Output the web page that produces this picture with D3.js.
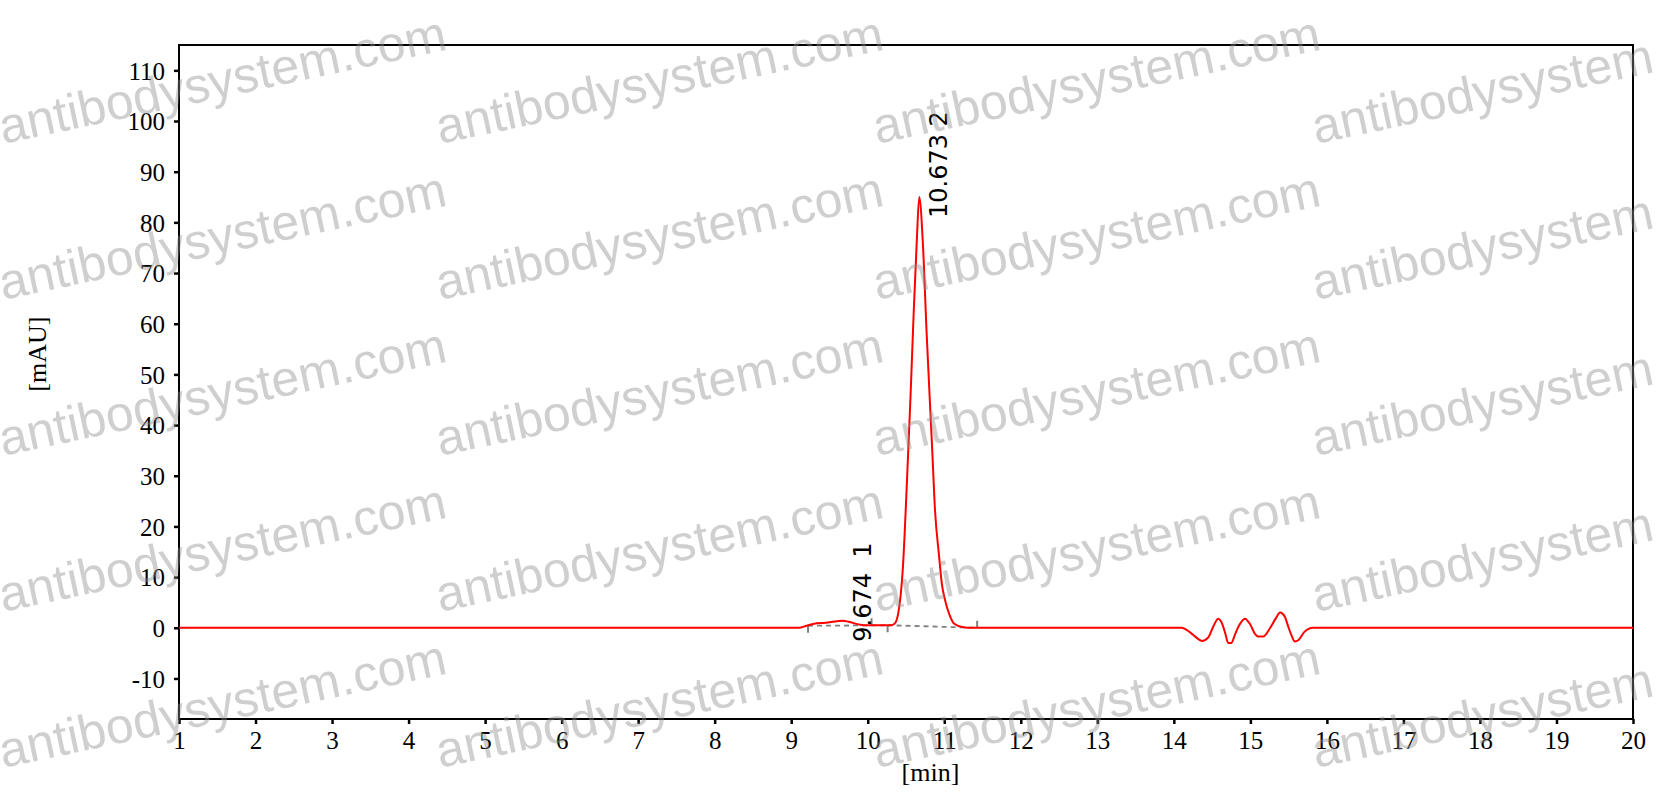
<!DOCTYPE html>
<html>
<head>
<meta charset="utf-8">
<script src="https://cdn.jsdelivr.net/npm/d3@7"></script>
<style>
  body { margin: 0; background: #fff; }
  svg { display: block; }
</style>
</head>
<body>
<svg id="chrom" width="1656" height="806"></svg>
<script>
// retention time (min) and signal (mAU)
var times = [1, 9.1, 9.2, 9.3, 9.45, 9.6, 9.674, 9.75, 9.9, 10.0, 10.3, 10.35, 10.4, 10.46, 10.51, 10.56, 10.6, 10.64, 10.673,
  10.72, 10.77, 10.84, 10.88, 10.93, 10.97, 11.01, 11.07, 11.13, 11.25, 11.35,
  14.1, 14.22, 14.3, 14.37, 14.45, 14.52, 14.58, 14.62, 14.67, 14.71, 14.75, 14.8, 14.85, 14.93, 15.0, 15.06, 15.1, 15.17,
  15.26, 15.33, 15.39, 15.45, 15.5, 15.54, 15.58, 15.63, 15.7, 15.76, 15.82, 20];
var signal = [0, 0, 0.4, 0.8, 1.0, 1.3, 1.4, 1.2, 0.6, 0.5, 0.5, 0.8, 3.0, 12, 28, 46, 62, 76, 85,
  76, 58, 36, 23, 14.5, 8.5, 5.5, 2.5, 0.8, 0.1, 0,
  0, -1.0, -2.0, -2.6, -1.9, 0.4, 1.8, 1.2, -1.0, -3.0, -3.0, -1.3, 0.4, 1.8, 0.6, -1.2, -1.7, -1.7,
  0, 1.8, 3.0, 2.2, 0, -1.6, -2.7, -2.4, -0.9, -0.2, 0, 0];

// integrated peaks
var peakTimes = [9.674, 10.673];
var peakHeights = [1.4, 85];
var peakLabels = ["9.674  1", "10.673 2"];

// integration baselines and their end marks
var baseStart = [9.22, 10.26];
var baseStartVal = [0.4, 0.5];
var baseEnd = [10.26, 11.43];
var baseEndVal = [0.5, 0];
var markTimes = [9.22, 10.05, 10.26, 11.43];
var markVals = [0.4, 0.5, 0.5, 0];
var markUp = [false, true, false, true];

var xTicks = d3.range(1, 21);
var yTicks = d3.range(-10, 111, 10);

var svg = d3.select("#chrom"),
    margin = {top: 45, right: 23, bottom: 87, left: 179},
    width = +svg.attr("width") - margin.left - margin.right,
    height = +svg.attr("height") - margin.top - margin.bottom,
    g = svg.append("g").attr("transform", "translate(" + margin.left + "," + margin.top + ")");

var x = d3.scaleLinear().domain([1, 20]).range([0, width]);
var y = d3.scaleLinear().domain([-18, 115]).range([height, 0]);

var data = times.map(function(t, i) { return {t: t, v: signal[i]}; });

var line = d3.line()
    .x(function(d) { return x(d.t); })
    .y(function(d) { return y(d.v); })
    .curve(d3.curveMonotoneX);

var serif = "'Liberation Serif', 'Times New Roman', serif";
var plain = function(d) { return String(d); };   // keeps "-10" with a hyphen

// axes
var xAxis = g.append("g")
    .attr("transform", "translate(0," + height + ")")
    .call(d3.axisBottom(x).tickValues(xTicks).tickSize(5).tickPadding(7).tickFormat(plain));
var yAxis = g.append("g")
    .call(d3.axisLeft(y).tickValues(yTicks).tickSize(5).tickPadding(9).tickFormat(plain));

[xAxis, yAxis].forEach(function(a) {
  a.select(".domain").remove();
  a.selectAll("line").attr("stroke", "#000").attr("stroke-width", 2.5);
  a.selectAll("text")
    .attr("fill", "#000")
    .style("font-family", serif)
    .style("font-size", "25px");
});
yAxis.selectAll("text").attr("dy", "0.35em");

g.append("rect")
    .attr("width", width)
    .attr("height", height)
    .attr("fill", "none")
    .attr("stroke", "#000")
    .attr("stroke-width", 2);

g.append("text")
    .attr("x", x(10.82))
    .attr("y", height + 62)
    .attr("text-anchor", "middle")
    .style("font-family", serif)
    .style("font-size", "26px")
    .text("[min]");

g.append("text")
    .attr("transform", "translate(" + (-133) + "," + y(54) + ") rotate(-90)")
    .attr("text-anchor", "middle")
    .style("font-family", serif)
    .style("font-size", "26px")
    .text("[mAU]");

// integration baselines
baseStart.forEach(function(s, i) {
  g.append("line")
    .attr("x1", x(s)).attr("y1", y(baseStartVal[i]))
    .attr("x2", x(baseEnd[i])).attr("y2", y(baseEndVal[i]))
    .attr("stroke", "#808080")
    .attr("stroke-width", 1.8)
    .attr("stroke-dasharray", "5,4");
});
markTimes.forEach(function(t, i) {
  var y0 = y(markVals[i]);
  g.append("line")
    .attr("x1", x(t)).attr("x2", x(t))
    .attr("y1", y0).attr("y2", markUp[i] ? y0 - 7 : y0 + 7)
    .attr("stroke", "#808080")
    .attr("stroke-width", 2);
});

// trace
g.append("path")
    .datum(data)
    .attr("fill", "none")
    .attr("stroke", "#ff0000")
    .attr("stroke-width", 2)
    .attr("stroke-linejoin", "round")
    .attr("d", line);

// peak labels
peakTimes.forEach(function(t, i) {
  g.append("text")
    .attr("transform", "translate(" + (x(t) + 28) + "," + (y(peakHeights[i]) + 21) + ") rotate(-90)")
    .attr("text-anchor", "start")
    .attr("xml:space", "preserve")
    .style("white-space", "pre")
    .style("font-family", "'DejaVu Sans', Verdana, sans-serif")
    .style("font-size", "24px")
    .attr("fill", "#000")
    .text(peakLabels[i]);
});

// watermark
var wmCols = [3, 440, 877, 1316];
var wmRows = [144, 300, 456, 612, 768];
var wm = svg.append("g").attr("pointer-events", "none");
wmRows.forEach(function(r) {
  wmCols.forEach(function(c) {
    wm.append("text")
      .attr("transform", "translate(" + c + "," + r + ") rotate(-12)")
      .style("font-family", "'Liberation Sans', Arial, sans-serif")
      .style("font-size", "50px")
      .attr("fill", "#8c8c8c")
      .attr("fill-opacity", 0.42)
      .text("antibodysystem.com");
  });
});
</script>
</body>
</html>
